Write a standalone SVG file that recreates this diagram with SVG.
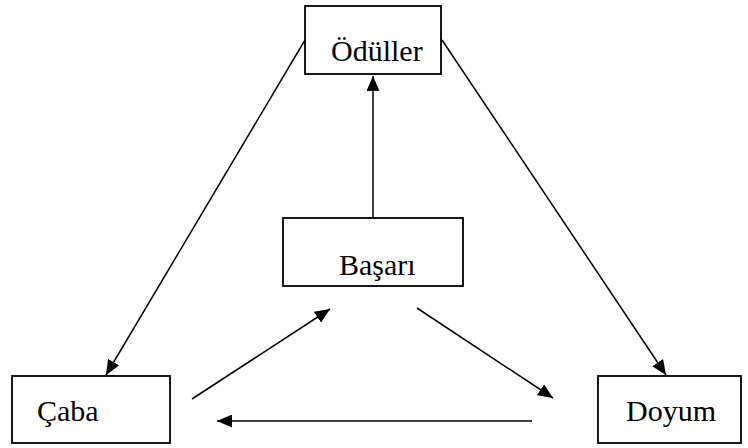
<svg xmlns="http://www.w3.org/2000/svg" width="748" height="448" viewBox="0 0 748 448">
<style>
.box{fill:#fff;stroke:#000;stroke-width:1.8}
.lbl{font-family:"Liberation Serif","Times New Roman",serif;font-size:30px;fill:#000}
.con{stroke:#000;stroke-width:1.5;fill:none;marker-end:url(#ah)}
</style>
<defs>
<marker id="ah" markerUnits="userSpaceOnUse" markerWidth="15" markerHeight="13" viewBox="0 0 15 13" refX="15" refY="6.5" orient="auto">
<path d="M0,0 L15,6.5 L0,13 Z" fill="#000"/>
</marker>
</defs>
<rect width="748" height="448" fill="#fff"/>
<g id="connectors">
<line class="con" x1="305" y1="40" x2="106" y2="375"/>
<line class="con" x1="442" y1="40" x2="666" y2="375"/>
<line class="con" x1="373" y1="218" x2="373" y2="76"/>
<line class="con" x1="192" y1="399" x2="330" y2="309"/>
<line class="con" x1="417" y1="308" x2="553" y2="398"/>
<line class="con" x1="532" y1="421" x2="217" y2="421"/>
</g>
<g id="odüller">
<rect class="box" x="305" y="6" width="136" height="68"/>
<text class="lbl" x="331" y="61">Ödüller</text>
</g>
<g id="basari">
<rect class="box" x="283" y="218" width="180" height="68"/>
<text class="lbl" x="339" y="275">Başarı</text>
</g>
<g id="caba">
<rect class="box" x="12" y="376" width="158" height="67"/>
<text class="lbl" x="37" y="421">Çaba</text>
</g>
<g id="doyum">
<rect class="box" x="598" y="376" width="143" height="67"/>
<text class="lbl" x="626" y="421">Doyum</text>
</g>
</svg>
